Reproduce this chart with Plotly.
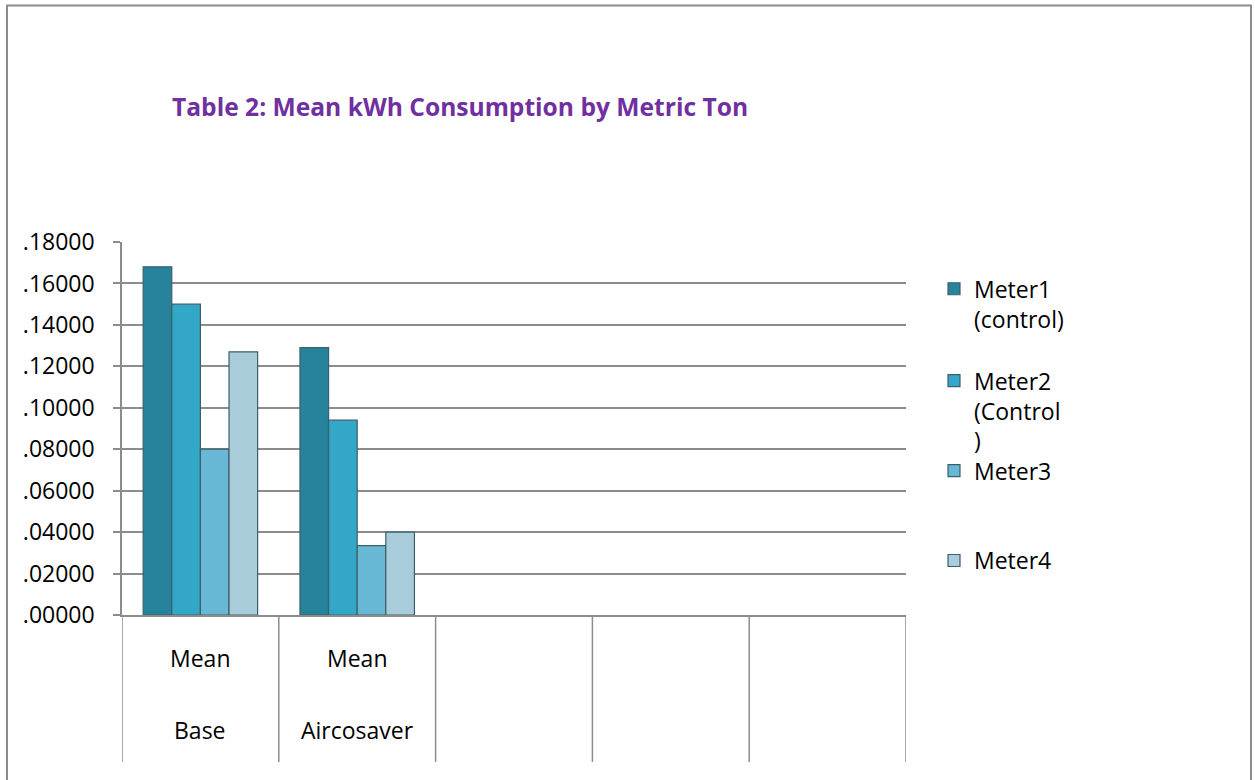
import plotly.graph_objects as go

# ---------------- data ----------------
categories_top = ["Mean", "Mean"]
categories_bottom = ["Base", "Aircosaver"]
n_slots = 5  # the category axis has 5 slots, only 2 are filled
series_names = ["Meter1<br>(control)", "Meter2<br>(Control<br>)", "Meter3", "Meter4"]
meter1 = [0.168, 0.129]
meter2 = [0.150, 0.094]
meter3 = [0.080, 0.0335]
meter4 = [0.127, 0.040]
y_ticks = [0.00, 0.02, 0.04, 0.06, 0.08, 0.10, 0.12, 0.14, 0.16, 0.18]
y_ticktext = [f"{v:.5f}".lstrip("0") for v in y_ticks]

# ---------------- styles ----------------
colors = ["#27839b", "#33a7c7", "#68b7d5", "#a8ccda"]
W, H = 1255, 780
PL, PR, PT, PB = 122, 906, 241.7, 615  # plot area in px
FONT = "Open Sans"


def px_x(px):
    return (px - PL) / (PR - PL)


def px_y(py):
    return (PB - py) / (PB - PT)


x_pos = list(range(len(categories_top)))
series_values = [meter1, meter2, meter3, meter4]

fig = go.Figure()
legend_ids = ["legend", "legend2", "legend3", "legend4"]
for name, vals, col, lg in zip(series_names, series_values, colors, legend_ids):
    fig.add_trace(go.Bar(
        x=x_pos, y=vals, name=name, legend=lg,
        marker=dict(color=col, line=dict(color="#3d5f69", width=1.2)),
    ))

# legends placed individually (Excel-like spacing)
legend_tops_px = [267, 359, 449, 539]
legend_common = dict(
    x=px_x(934), xanchor="left", yanchor="top", valign="top",
    bgcolor="rgba(0,0,0,0)", font=dict(family=FONT, size=23, color="#000000"),
    itemclick=False, itemdoubleclick=False,
)
layout_legends = {}
for lg, top in zip(legend_ids, legend_tops_px):
    layout_legends[lg] = dict(legend_common, y=px_y(top))

annotations = []
for i, (t, b) in enumerate(zip(categories_top, categories_bottom)):
    annotations.append(dict(x=i, y=px_y(658), xref="x", yref="paper", text=t,
                            yanchor="middle", xanchor="center",
                            showarrow=False, font=dict(family=FONT, size=23, color="#000000")))
    annotations.append(dict(x=i, y=px_y(730), xref="x", yref="paper", text=b,
                            yanchor="middle", xanchor="center",
                            showarrow=False, font=dict(family=FONT, size=23, color="#000000")))

shapes = []
for k in range(n_slots + 1):
    shapes.append(dict(type="line", xref="x", yref="paper",
                       x0=k - 0.5, x1=k - 0.5, y0=0, y1=px_y(762),
                       line=dict(color="#8c8c8c", width=1.5)))
# chart area border
shapes.append(dict(type="rect", xref="paper", yref="paper",
                   x0=px_x(7), x1=px_x(1251), y0=px_y(800), y1=px_y(5),
                   line=dict(color="#8c8c8c", width=2), fillcolor="rgba(0,0,0,0)"))

fig.update_layout(
    width=W, height=H,
    margin=dict(l=PL, r=W - PR, t=PT, b=H - PB, autoexpand=False),
    paper_bgcolor="white", plot_bgcolor="white",
    barmode="group", bargap=0.27, bargroupgap=0,
    title=dict(text="<b>Table 2: Mean kWh Consumption by Metric Ton</b>",
               x=px_x(172), xanchor="left", xref="paper",
               y=1 - 107 / H, yanchor="middle",
               font=dict(family=FONT, size=24.6, color="#7030a0")),
    xaxis=dict(range=[-0.5, n_slots - 0.5], showticklabels=False, showgrid=False,
               zeroline=False, showline=True, linecolor="#8c8c8c", linewidth=1.5,
               ticks="", fixedrange=True),
    yaxis=dict(range=[0, 0.18], tickvals=y_ticks, ticktext=y_ticktext,
               showgrid=True, gridcolor="#8c8c8c", gridwidth=1.5,
               zeroline=False, showline=True, linecolor="#8c8c8c", linewidth=1.5,
               ticks="outside", ticklen=7, tickcolor="#8c8c8c", tickwidth=1.5,
               ticklabelstandoff=14,
               tickfont=dict(family=FONT, size=23, color="#000000"), fixedrange=True),
    annotations=annotations,
    shapes=shapes,
    showlegend=True,
    **layout_legends,
)

fig.write_html("out.html", config={"displayModeBar": False},
               post_script="document.body.style.margin='0px';")
